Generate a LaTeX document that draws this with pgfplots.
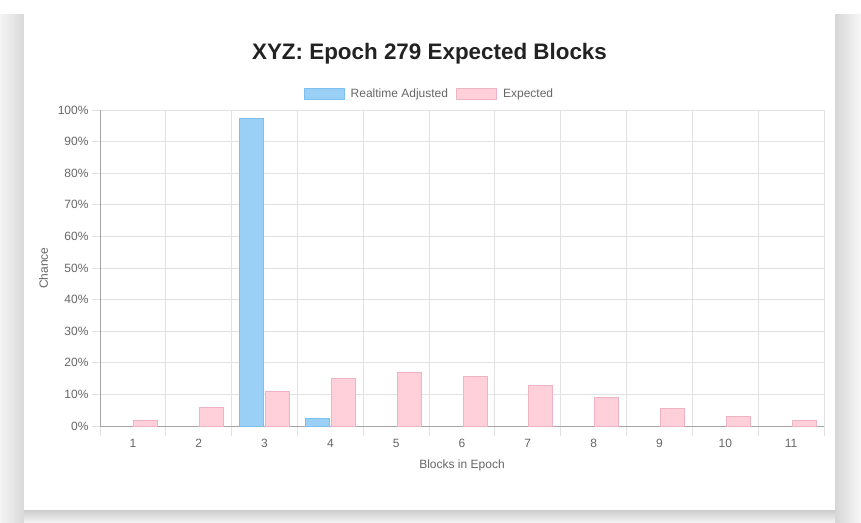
\documentclass[border=0pt]{standalone}
\usepackage{pgfplots}
\pgfplotsset{compat=1.18}
\usepackage{fontspec}
\setmainfont{Liberation Sans}
\definecolor{bluefill}{RGB}{154,208,245}
\definecolor{blueline}{RGB}{125,192,240}
\definecolor{pinkfill}{RGB}{255,207,218}
\definecolor{pinkline}{RGB}{238,180,196}
\definecolor{gridc}{RGB}{225,225,225}
\definecolor{axc}{RGB}{165,165,165}
\definecolor{txt}{RGB}{102,102,102}
\definecolor{titlec}{RGB}{34,34,34}
\begin{document}
\begin{tikzpicture}[x=1pt,y=1pt]
\path[use as bounding box] (0,0) rectangle (861,-522);
\shade[left color=gray!8, right color=gray!30] (0,-14) rectangle (24,-522);
\shade[left color=gray!32, right color=gray!6] (835,-14) rectangle (861,-522);
\shade[top color=gray!40, bottom color=gray!10] (24,-510) rectangle (835,-522);
\fill[white] (24,-14) rectangle (835,-510);
\node[font=\bfseries\fontsize{22.4}{22.4}\selectfont, text=titlec] at (429.5,-54) {XYZ: Epoch 279 Expected Blocks};
\begin{axis}[
  at={(100pt,-426pt)}, anchor=south west,
  width=724pt, height=316pt, scale only axis,
  xmin=0.5, xmax=11.5, ymin=0, ymax=100,
  xtick={1,...,11}, minor xtick={0.5,1.5,...,11.5},
  ytick={0,10,...,100},
  yticklabel={\pgfmathprintnumber{\tick}\%},
  /pgf/number format/assume math mode=true,
  axis x line*=bottom, axis y line*=left,
  axis line style={axc, line width=1pt},
  xminorgrids, ymajorgrids,
  grid style={gridc, line width=1pt},
  minor grid style={gridc, line width=1pt},
  tick align=outside,
  major tick length=8pt, minor tick length=10pt,
  major x tick style={draw=none},
  ytick style={gridc, line width=1pt},
  minor tick style={gridc, line width=1pt},
  tick label style={font=\fontsize{12}{12}\selectfont, text=txt},
  xticklabel style={yshift=-2pt},
  xlabel={Blocks in Epoch}, ylabel={Chance},
  label style={font=\fontsize{12}{12}\selectfont, text=txt},
  xlabel style={yshift=-5pt},
  ylabel style={yshift=3pt},
  legend style={draw=none, fill=none, at={(0.455,1.0506)}, anchor=center,
    font=\fontsize{12}{12}\selectfont, text=txt,
    /tikz/every even column/.append style={column sep=6pt},
    /tikz/every odd column/.append style={column sep=4pt}},
  legend columns=2,
  legend cell align=left,
  legend image code/.code={\draw[#1, line width=1pt] (0pt,-5.5pt) rectangle (40pt,5.5pt);},
  unbounded coords=discard,
]
\addplot[ybar, bar width=24pt, bar shift=-13pt, fill=bluefill, draw=blueline, line width=1pt,
  y filter/.expression={y==0 ? nan : y}]
  coordinates {(1,0) (2,0) (3,97.2) (4,2.5) (5,0) (6,0) (7,0) (8,0) (9,0) (10,0) (11,0)};
\addlegendentry{Realtime Adjusted}
\addplot[ybar, bar width=24pt, bar shift=13pt, fill=pinkfill, draw=pinkline, line width=1pt]
  coordinates {(1,1.9) (2,5.7) (3,10.8) (4,14.9) (5,16.8) (6,15.8) (7,12.7) (8,8.9) (9,5.4) (10,3.0) (11,1.6)};
\addlegendentry{Expected}
\end{axis}
\end{tikzpicture}
\end{document}
